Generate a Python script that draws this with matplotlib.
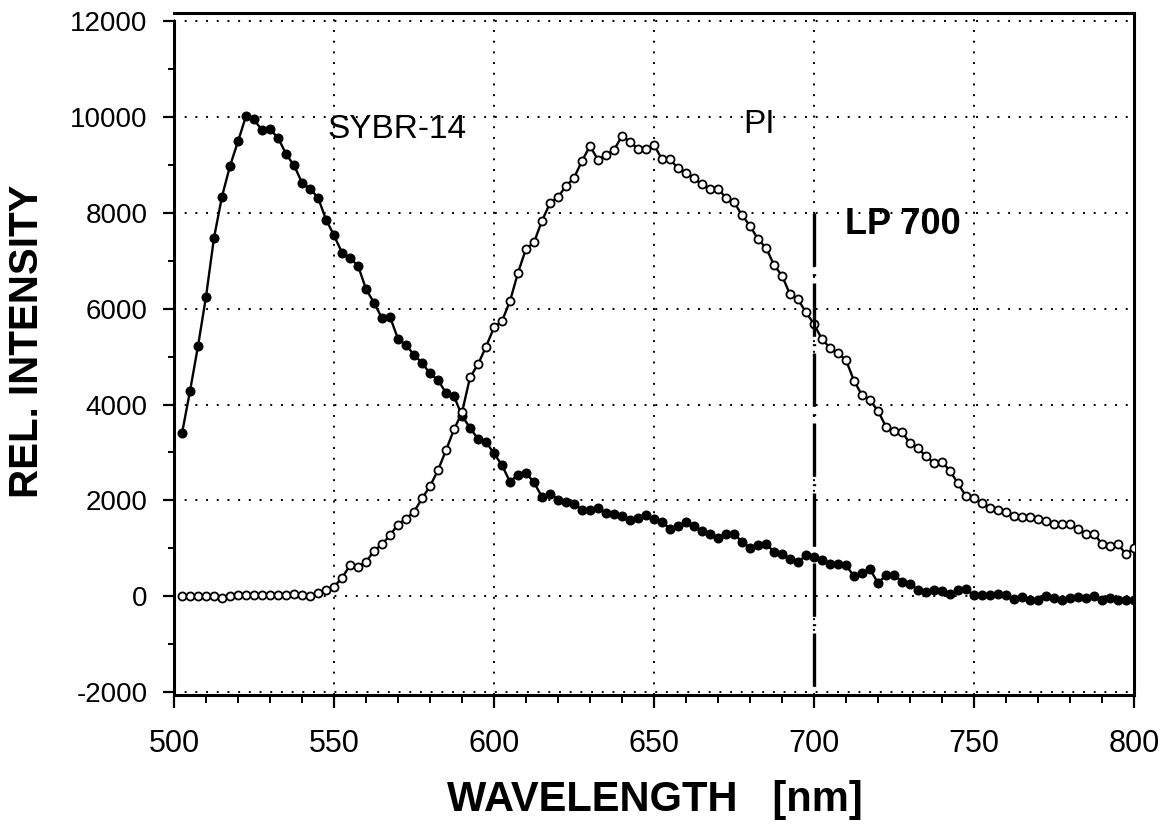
import numpy as np
import matplotlib
matplotlib.use("Agg")
import matplotlib.pyplot as plt
from matplotlib.ticker import MultipleLocator

plt.rcParams['font.family'] = ['Liberation Sans', 'DejaVu Sans']
plt.rcParams['axes.unicode_minus'] = False

# emission spectra, one reading every 2.5 nm
wavelength = [
    502.5, 505.0, 507.5, 510.0, 512.5, 515.0, 517.5, 520.0, 522.5, 525.0, 527.5, 530.0,
    532.5, 535.0, 537.5, 540.0, 542.5, 545.0, 547.5, 550.0, 552.5, 555.0, 557.5, 560.0,
    562.5, 565.0, 567.5, 570.0, 572.5, 575.0, 577.5, 580.0, 582.5, 585.0, 587.5, 590.0,
    592.5, 595.0, 597.5, 600.0, 602.5, 605.0, 607.5, 610.0, 612.5, 615.0, 617.5, 620.0,
    622.5, 625.0, 627.5, 630.0, 632.5, 635.0, 637.5, 640.0, 642.5, 645.0, 647.5, 650.0,
    652.5, 655.0, 657.5, 660.0, 662.5, 665.0, 667.5, 670.0, 672.5, 675.0, 677.5, 680.0,
    682.5, 685.0, 687.5, 690.0, 692.5, 695.0, 697.5, 700.0, 702.5, 705.0, 707.5, 710.0,
    712.5, 715.0, 717.5, 720.0, 722.5, 725.0, 727.5, 730.0, 732.5, 735.0, 737.5, 740.0,
    742.5, 745.0, 747.5, 750.0, 752.5, 755.0, 757.5, 760.0, 762.5, 765.0, 767.5, 770.0,
    772.5, 775.0, 777.5, 780.0, 782.5, 785.0, 787.5, 790.0, 792.5, 795.0, 797.5, 800.0,
]

sybr14 = [
    3400, 4280, 5220, 6250, 7480, 8340, 8980, 9490, 10020, 9950, 9720, 9740,
    9570, 9230, 8990, 8630, 8500, 8320, 7860, 7530, 7170, 7050, 6900, 6410,
    6125, 5800, 5830, 5370, 5240, 5040, 4870, 4650, 4510, 4245, 4176, 3765,
    3515, 3285, 3222, 2980, 2735, 2387, 2540, 2575, 2374, 2074, 2144, 2019,
    1965, 1918, 1810, 1810, 1845, 1740, 1725, 1685, 1600, 1643, 1705, 1607,
    1551, 1413, 1462, 1551, 1476, 1357, 1309, 1225, 1309, 1309, 1134, 1016,
    1079, 1100, 925, 875, 787, 710, 856, 821, 766, 683, 668, 647,
    418, 487, 564, 278, 438, 453, 299, 265, 125, 90, 140, 111,
    56, 125, 146, 21, 21, 21, 56, 21, -49, -14, -84, -84,
    0, -35, -70, -28, -14, -28, 0, -84, -28, -70, -84, -70,
]

pi = [
    10, 10, 10, 10, 0, -40, 0, 20, 20, 20, 20, 20,
    20, 30, 40, 20, 10, 60, 140, 200, 380, 650, 610, 716,
    946, 1086, 1274, 1497, 1622, 1760, 2040, 2297, 2631, 3048, 3480, 3835,
    4566, 4838, 5206, 5610, 5742, 6160, 6750, 7250, 7385, 7837, 8199, 8330,
    8560, 8730, 9083, 9396, 9104, 9208, 9313, 9605, 9486, 9333, 9326, 9417,
    9118, 9118, 8930, 8840, 8720, 8596, 8492, 8500, 8317, 8227, 7949, 7732,
    7448, 7273, 6911, 6690, 6300, 6195, 5924, 5680, 5360, 5185, 5067, 4928,
    4496, 4197, 4092, 3869, 3535, 3452, 3431, 3188, 3084, 2923, 2771, 2804,
    2616, 2353, 2088, 2040, 1936, 1852, 1810, 1748, 1677, 1656, 1656, 1614,
    1572, 1517, 1510, 1510, 1399, 1309, 1295, 1100, 1044, 1086, 877, 1009,
]

# long-pass filter edge
lp_cutoff = 700
lp_top = 8000

W, H = 1166, 833
fig = plt.figure(figsize=(W / 100, H / 100), dpi=100)
ax = fig.add_axes([174 / W, 1 - 695 / H, (1134 - 174) / W, (695 - 13) / H])

ax.set_xlim(500, 800)
ax.set_ylim(-2060, 12170)
ax.set_yticks(np.arange(-2000, 12001, 2000))
ax.xaxis.set_major_locator(MultipleLocator(50))
ax.xaxis.set_minor_locator(MultipleLocator(10))
ax.yaxis.set_minor_locator(MultipleLocator(1000))

ax.grid(True, which='major', color='black', linestyle=(0, (1, 4.5)), linewidth=1.4)

for side in ['left', 'right', 'top', 'bottom']:
    ax.spines[side].set_linewidth(2.2)
ax.spines['left'].set_bounds(-2000, 12000)

ax.tick_params(axis='x', which='major', direction='out', length=9.5, width=1.6,
               pad=15, labelsize=22)
ax.tick_params(axis='x', which='minor', direction='out', length=5.5, width=1.4)
ax.tick_params(axis='y', which='major', direction='out', length=8, width=1.6,
               pad=11, labelsize=20)
ax.tick_params(axis='y', which='minor', direction='out', length=4.5, width=1.4)

ax.plot(wavelength, sybr14, color='black', linewidth=1.7, marker='o',
        markersize=6.2, markerfacecolor='black', markeredgecolor='black', zorder=3)
ax.plot(wavelength, pi, color='black', linewidth=1.7, marker='o',
        markersize=5.8, markerfacecolor='white', markeredgecolor='black',
        markeredgewidth=1.3, zorder=4)

ybottom = ax.get_ylim()[0]
ax.plot([lp_cutoff, lp_cutoff], [lp_top, ybottom], color='black', linewidth=2.4,
        linestyle=(0, (16, 2.2, 0.6, 2.2)), solid_capstyle='butt', zorder=5)

ax.text(547.8, 9563, 'SYBR-14', fontsize=24)
ax.text(677.8, 9667, 'PI', fontsize=24)
ax.text(709.7, 7559, 'LP 700', fontsize=26, fontweight='bold')

fig.text(655 / W, 1 - 800 / H, 'WAVELENGTH   [nm]', fontsize=30, fontweight='bold',
         ha='center', va='center')
fig.text(27 / W, 1 - 341 / H, 'REL. INTENSITY', fontsize=29, fontweight='bold',
         rotation=90, ha='center', va='center')

fig.savefig('out.png', dpi=100, facecolor='white')
